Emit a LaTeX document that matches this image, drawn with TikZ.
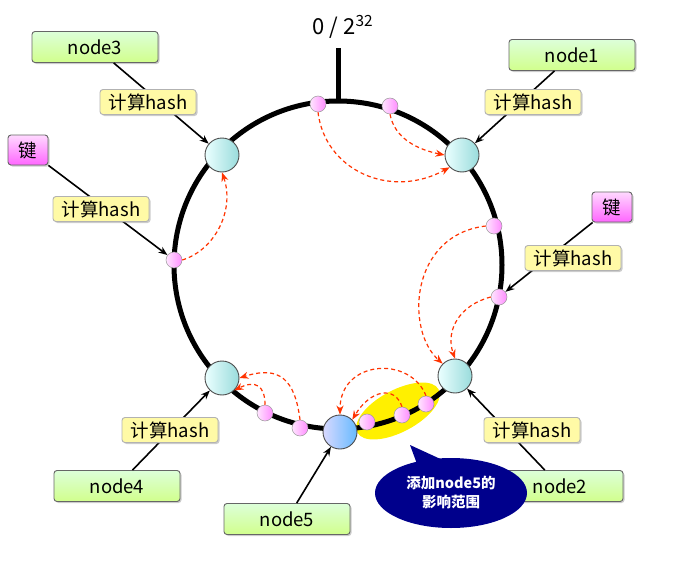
\documentclass[tikz,border=0pt]{standalone}
\usepackage{fontspec}
\setmainfont{Noto Sans CJK SC}
\usetikzlibrary{arrows.meta,shadows}
\begin{document}
\begin{tikzpicture}[x=1pt,y=-1pt,
  box/.style={draw=black!60,rounded corners=3pt,line width=0.9pt,inner sep=0pt,font=\fontsize{18.5}{18.5}\selectfont,drop shadow={shadow xshift=1.5pt,shadow yshift=-1.5pt,opacity=0.4}},
  nbox/.style={box,minimum width=126pt,minimum height=31pt,top color=yellow!10!green!15,bottom color=yellow!60!green!45},
  kbox/.style={box,minimum width=40pt,minimum height=30pt,top color=magenta!15,bottom color=magenta!60},
  hbox/.style={box,draw=black!30,minimum width=96pt,minimum height=25pt,fill=yellow!35,drop shadow={opacity=0}},
  big/.style={circle,draw=black!70,line width=0.9pt,minimum size=34pt,inner sep=0pt,left color=cyan!8,right color=cyan!30!teal!40},
  sm/.style={circle,draw=black!40,line width=0.5pt,minimum size=16pt,inner sep=0pt,left color=magenta!10,right color=magenta!45},
  arr/.style={-{Stealth[length=9pt,width=7pt]},line width=1.6pt},
  da/.style={-{Stealth[length=9pt,width=7pt]},red!60!orange,line width=1.2pt,dash pattern=on 4pt off 3pt}]
\useasboundingbox (0,0) rectangle (697,562);
% highlight
\fill[yellow!90!orange!20!yellow] (398,411) ellipse[x radius=46, y radius=21, rotate=28];
% ring
\draw[line width=5pt] (338,265) circle[radius=164];
\draw[line width=5pt] (338,101) -- (338,48);
\node[font=\fontsize{22}{22}\selectfont] (top) at (343,27) {0 / 2\textsuperscript{32}};
% big nodes
\node[big] (n3) at (222,155) {};
\node[big] (n1) at (462,155) {};
\node[big] (n4) at (222,378) {};
\node[big] (n2) at (455,376) {};
\node[big,left color=blue!15,right color=blue!45!cyan!60] (n5) at (340,432) {};
% small points
\node[sm] (p1) at (318,104) {};
\node[sm] (p2) at (390,106) {};
\node[sm] (p3) at (494,226) {};
\node[sm] (p4) at (499,297) {};
\node[sm] (p5) at (174,260) {};
\node[sm] (p6) at (265,413) {};
\node[sm] (p7) at (300,428) {};
\node[sm] (p8) at (367,422) {};
\node[sm] (p9) at (402,415) {};
\node[sm] (p10) at (426,404) {};
% labels
\node[nbox] (b3) at (95,47) {node3};
\node[nbox] (b1) at (572,55) {node1};
\node[nbox] (b4) at (117,486) {node4};
\node[nbox] (b2) at (560,486) {node2};
\node[nbox] (b5) at (287,519) {node5};
\node[kbox] (k1) at (28,150) {键};
\node[kbox] (k2) at (612,207) {键};
% arrows
\draw[arr] (b3) -- (n3);
\draw[arr] (b1) -- (n1);
\draw[arr] (k1) -- (p5);
\draw[arr] (k2) -- (p4);
\draw[arr] (b4) -- (n4);
\draw[arr] (b2) -- (n2);
\draw[arr] (b5) -- (n5);
\node[hbox] (h3) at (148,102) {计算hash};
\node[hbox] (h1) at (533,102) {计算hash};
\node[hbox] (h5) at (101,209) {计算hash};
\node[hbox] (h4k) at (573,258) {计算hash};
\node[hbox] (h4) at (170,430) {计算hash};
\node[hbox] (h2) at (532,430) {计算hash};
% dashed
\draw[da] (p1.south) .. controls (325,170) and (390,200) .. (n1.south west);
\draw[da] (p2.south) .. controls (395,140) and (420,150) .. (n1.west);
\draw[da] (p5.east) .. controls (215,250) and (235,210) .. (n3.south);
\draw[da] (p3.west) .. controls (410,235) and (405,330) .. (n2.north west);
\draw[da] (p4.west) .. controls (460,305) and (445,330) .. (n2.north);
\draw[da] (p7.north) .. controls (295,380) and (280,365) .. (n4.east);
\draw[da] (p6.north) .. controls (265,385) and (255,380) .. (n4.south east);
\draw[da] (p10.north) .. controls (410,355) and (340,360) .. (n5.north);
\draw[da] (p9.north) .. controls (395,385) and (370,390) .. (n5.north east);
% callout
\fill[blue!55!black] (410,445) -- (420,472) -- (447,462) -- cycle;
\fill[blue!55!black] (451,493) ellipse[x radius=76, y radius=35];
\node[text=white,font=\bfseries\fontsize{14.5}{19}\selectfont,align=center] (c) at (451,493) {添加node5的\\影响范围};
\end{tikzpicture}
\end{document}
